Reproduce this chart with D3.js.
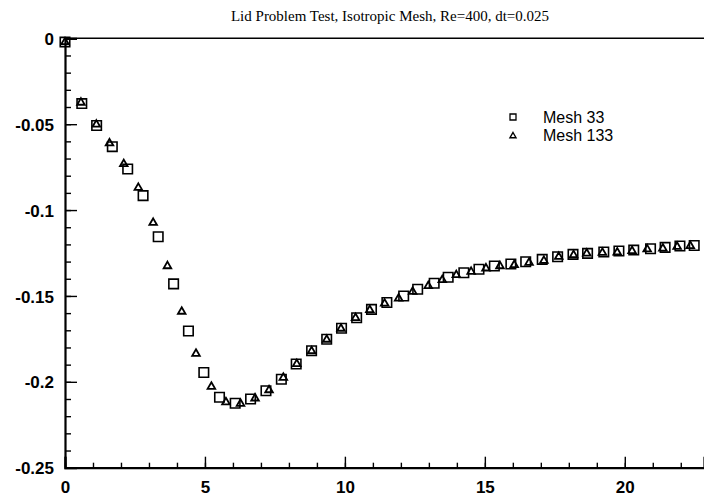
<!DOCTYPE html>
<html>
<head>
<meta charset="utf-8">
<script src="https://cdn.jsdelivr.net/npm/d3@7"></script>
<style>
  body { margin: 0; background: #fff; }
  svg { display: block; }
</style>
</head>
<body>
<svg id="chart" width="704" height="498"></svg>
<script>
// time and centre-line velocity, coarse mesh
const mesh33_t = [0, 0.60, 1.13, 1.69, 2.24, 2.79, 3.33, 3.88, 4.41, 4.96, 5.52, 6.08, 6.63, 7.18,
  7.73, 8.26, 8.81, 9.35, 9.88, 10.42, 10.95, 11.50, 12.10, 12.60, 13.19, 13.69, 14.25, 14.79,
  15.34, 15.93, 16.46, 17.05, 17.60, 18.15, 18.67, 19.25, 19.79, 20.32, 20.92, 21.44, 21.97, 22.48];
const mesh33_u = [-0.0022, -0.0380, -0.0508, -0.0631, -0.0761, -0.0916, -0.1155, -0.1430, -0.1704,
  -0.1946, -0.2090, -0.2125, -0.2100, -0.2052, -0.1985, -0.1896, -0.1819, -0.1752, -0.1688, -0.1627,
  -0.1578, -0.1538, -0.1500, -0.1461, -0.1426, -0.1391, -0.1365, -0.1345, -0.1326, -0.1314, -0.1301,
  -0.1287, -0.1272, -0.1258, -0.1252, -0.1244, -0.1238, -0.1233, -0.1225, -0.1217, -0.1209, -0.1206];

// fine mesh
const mesh133_t = [0, 0.57, 1.12, 1.59, 2.10, 2.62, 3.15, 3.66, 4.17, 4.68, 5.23, 5.75, 6.27, 6.79,
  7.29, 7.80, 8.28, 8.81, 9.35, 9.86, 10.38, 10.89, 11.42, 11.92, 12.42, 12.98, 13.48, 13.98, 14.51,
  15.04, 15.54, 16.05, 16.58, 17.11, 17.64, 18.17, 18.64, 19.20, 19.73, 20.26, 20.80, 21.36, 21.87, 22.34];
const mesh133_u = [-0.0022, -0.0374, -0.0502, -0.0611, -0.0732, -0.0870, -0.1074, -0.1326, -0.1591,
  -0.1836, -0.2028, -0.2118, -0.2127, -0.2096, -0.2048, -0.1976, -0.1896, -0.1821, -0.1754, -0.1690,
  -0.1628, -0.1582, -0.1544, -0.1514, -0.1475, -0.1442, -0.1407, -0.1378, -0.1359, -0.1339, -0.1326,
  -0.1320, -0.1306, -0.1295, -0.1272, -0.1262, -0.1252, -0.1248, -0.1246, -0.1238, -0.1228, -0.1223,
  -0.1213, -0.1209];

const xTicks = [0, 5, 10, 15, 20];
const yTicks = [0, -0.05, -0.1, -0.15, -0.2, -0.25];
const legendNames = ["Mesh 33", "Mesh 133"];
const titleText = "Lid Problem Test, Isotropic Mesh, Re=400, dt=0.025";

const mLeft = 65, mTop = 38.3, mBottom = 467.7, mRight = 704;

let x = d3.scaleLinear().domain([0, 22.83]).range([mLeft, mRight]);
let y = d3.scaleLinear().domain([0, -0.25]).range([mTop, mBottom]);

const svg = d3.select("#chart");

svg.append("text")
    .attr("x", 390)
    .attr("y", 21)
    .attr("text-anchor", "middle")
    .style("font-family", "'Liberation Serif', 'Times New Roman', serif")
    .style("font-size", "15px")
    .text(titleText);

// frame: top line and the two axes
svg.append("line")
    .attr("x1", mLeft).attr("x2", mRight)
    .attr("y1", mTop).attr("y2", mTop)
    .attr("stroke", "#000").attr("stroke-width", 1.6);

const yLab = d => d === 0 ? "0" : String(+d.toFixed(2));

// minor ticks first, major ticks with labels on top
svg.append("g")
    .attr("transform", `translate(${mLeft},0)`)
    .call(d3.axisLeft(y).tickValues(d3.range(0, -0.2501, -0.01)).tickSize(-6).tickFormat(""))
    .call(g => g.select(".domain").remove());

svg.append("g")
    .attr("class", "yaxis")
    .attr("transform", `translate(${mLeft},0)`)
    .call(d3.axisLeft(y).tickValues(yTicks).tickSize(-12).tickPadding(11).tickFormat(yLab))
    .call(g => g.select(".domain").attr("stroke-width", 2.2));

svg.append("g")
    .attr("transform", `translate(0,${mBottom})`)
    .call(d3.axisBottom(x).tickValues(d3.range(0, 23, 1)).tickSize(-5).tickFormat(""))
    .call(g => g.select(".domain").remove());

svg.append("g")
    .attr("class", "xaxis")
    .attr("transform", `translate(0,${mBottom})`)
    .call(d3.axisBottom(x).tickValues(xTicks).tickSize(-11).tickPadding(13).tickFormat(d3.format("d")))
    .call(g => g.select(".domain").attr("stroke-width", 2.2));

svg.selectAll(".tick line").attr("stroke-width", 1.4);
svg.selectAll(".yaxis text, .xaxis text")
    .style("font-family", "Arial, 'Liberation Sans', sans-serif")
    .style("font-size", "17px")
    .style("font-weight", "bold")
    .attr("fill", "#000");
svg.select(".yaxis").selectAll("text").attr("dy", "0.36em");

const square = d3.symbol().type(d3.symbolSquare).size(90);
const triangle = d3.symbol().type(d3.symbolTriangle).size(25);

const s33 = mesh33_t.map((t, i) => ({ t: t, u: mesh33_u[i] }));
const s133 = mesh133_t.map((t, i) => ({ t: t, u: mesh133_u[i] }));

svg.append("g").selectAll("path")
    .data(s33)
    .enter()
    .append("path")
    .attr("d", square)
    .attr("transform", d => `translate(${x(d.t)},${y(d.u)})`)
    .attr("fill", "none")
    .attr("stroke", "#000")
    .attr("stroke-width", 1.6);

svg.append("g").selectAll("path")
    .data(s133)
    .enter()
    .append("path")
    .attr("d", triangle)
    .attr("transform", d => `translate(${x(d.t)},${y(d.u)})`)
    .attr("fill", "none")
    .attr("stroke", "#000")
    .attr("stroke-width", 1.8);

// legend
const legend = svg.append("g");
legend.append("path")
    .attr("d", d3.symbol().type(d3.symbolSquare).size(36))
    .attr("transform", "translate(513,117)")
    .attr("fill", "none").attr("stroke", "#000").attr("stroke-width", 1.3);
legend.append("path")
    .attr("d", d3.symbol().type(d3.symbolTriangle).size(16))
    .attr("transform", "translate(513,136)")
    .attr("fill", "none").attr("stroke", "#000").attr("stroke-width", 1.4);
legend.selectAll("text")
    .data(legendNames)
    .enter()
    .append("text")
    .attr("x", 543)
    .attr("y", (d, i) => 123 + i * 18)
    .style("font-family", "Arial, 'Liberation Sans', sans-serif")
    .style("font-size", "16px")
    .text(d => d);
</script>
</body>
</html>
